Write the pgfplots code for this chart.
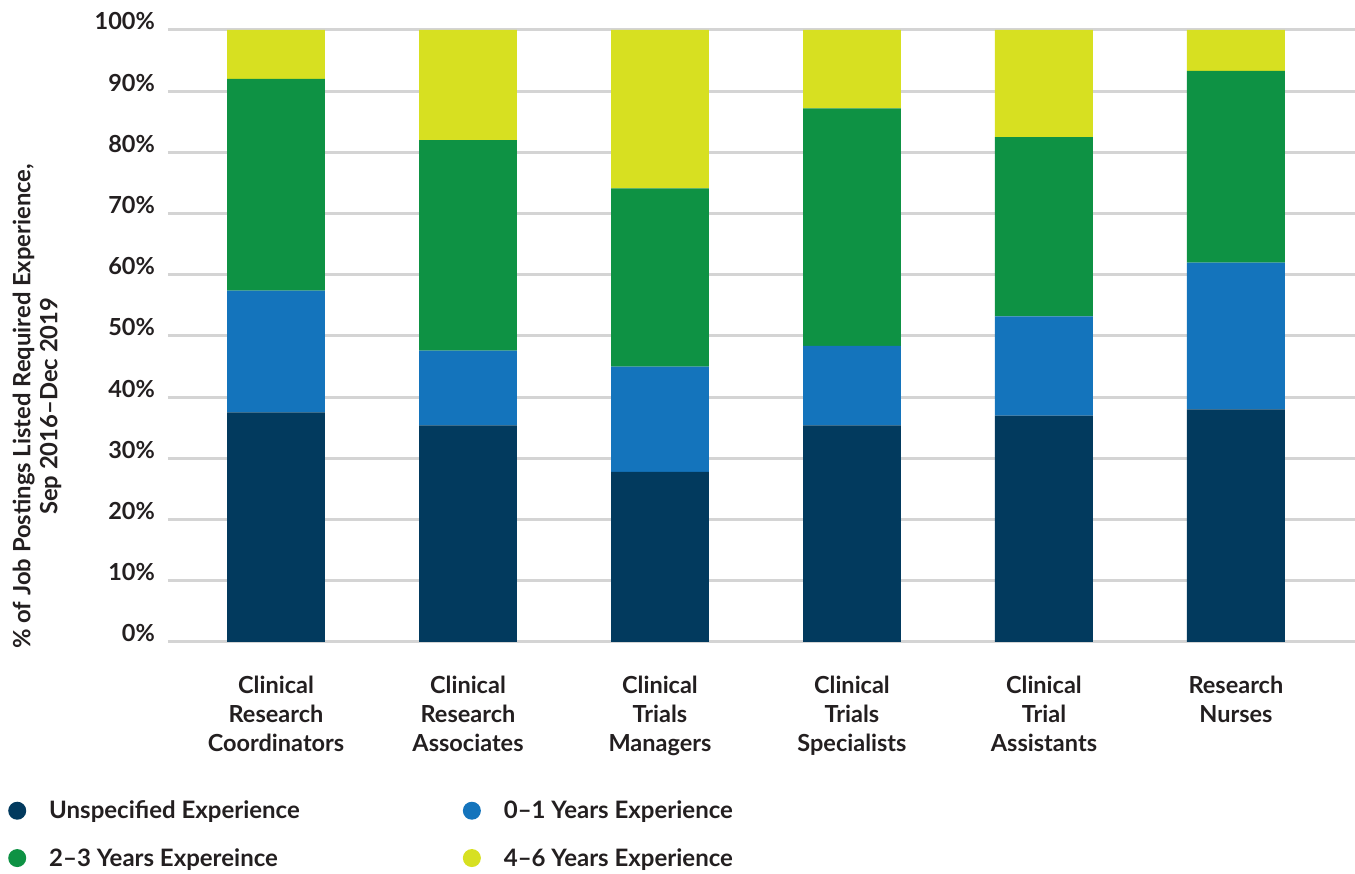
\documentclass[border=0pt]{standalone}
\usepackage{fontspec}
\setmainfont{Lato}
\usepackage{pgfplots}
\usepackage{pgfplotstable}
\pgfplotsset{compat=1.18}
\definecolor{cnavy}{HTML}{023A5E}
\definecolor{cblue}{HTML}{1474BC}
\definecolor{cgreen}{HTML}{0E9244}
\definecolor{cyellow}{HTML}{D7E021}
\definecolor{ctext}{HTML}{231F20}
\definecolor{cgrid}{HTML}{D4D4D4}
\pgfplotstableread{
x unspec zeroone twothree foursix
0 37.5 19.9 34.6 8.0
1 35.4 12.2 34.4 18.0
2 27.8 17.2 29.1 25.9
3 35.4 13.0 38.8 12.8
4 37.0 16.2 29.3 17.5
5 38.0 24.0 31.3 6.7
}\datatable
\begin{document}
\begin{tikzpicture}[x=1pt,y=1pt]
\useasboundingbox (0,0) rectangle (1355,874);
\begin{axis}[
  at={(168pt,232pt)}, anchor=south west,
  scale only axis, width=1187pt, height=612pt,
  ybar stacked, bar width=0.51,
  xmin=-0.5625, xmax=5.62, ymin=0, ymax=100,
  xtick=data,
  xticklabels={{Clinical\\Research\\Coordinators},{Clinical\\Research\\Associates},{Clinical\\Trials\\Managers},{Clinical\\Trials\\Specialists},{Clinical\\Trial\\Assistants},{Research\\Nurses}},
  ytick={0,10,...,100},
  yticklabel={\pgfmathprintnumber{\tick}\%},
  /pgf/number format/assume math mode=true,
  axis line style={draw=none},
  major tick length=0pt,
  ymajorgrids,
  major grid style={line width=3pt, color=cgrid},
  tick label style={font=\fontsize{23.5}{29}\selectfont\bfseries, text=ctext},
  yticklabel style={anchor=base east, inner sep=0pt, xshift=-13pt},
  xticklabel style={anchor=north, inner sep=0pt, yshift=-34pt, align=center},
  ylabel={\% of Job Postings Listed Required Experience,\\Sep 2016–Dec 2019},
  ylabel style={at={(axis description cs:-0.1104,0.385)}, anchor=center, align=center, font=\fontsize{23.8}{27}\selectfont\bfseries, text=ctext},
  legend columns=2,
  legend cell align=left,
  legend style={at={(axis description cs:-0.1373,-0.253)}, anchor=north west, draw=none, fill=none,
    font=\fontsize{24}{28}\selectfont\bfseries, text=ctext,
    row sep=24pt, /tikz/every even column/.append style={column sep=161pt}},
  legend image code/.code={\fill (0pt,0pt) circle (9pt); \path[draw=none,fill=none] (-9pt,0pt) (30pt,0pt);},
]
\addplot[fill=cnavy, draw=none] table[x=x, y=unspec] {\datatable};
\addlegendentry{Unspecified Experience}
\addplot[fill=cblue, draw=none] table[x=x, y=zeroone] {\datatable};
\addlegendentry{0–1 Years Experience}
\addplot[fill=cgreen, draw=none] table[x=x, y=twothree] {\datatable};
\addlegendentry{2–3 Years Expereince}
\addplot[fill=cyellow, draw=none] table[x=x, y=foursix] {\datatable};
\addlegendentry{4–6 Years Experience}
\end{axis}
\end{tikzpicture}
\end{document}
